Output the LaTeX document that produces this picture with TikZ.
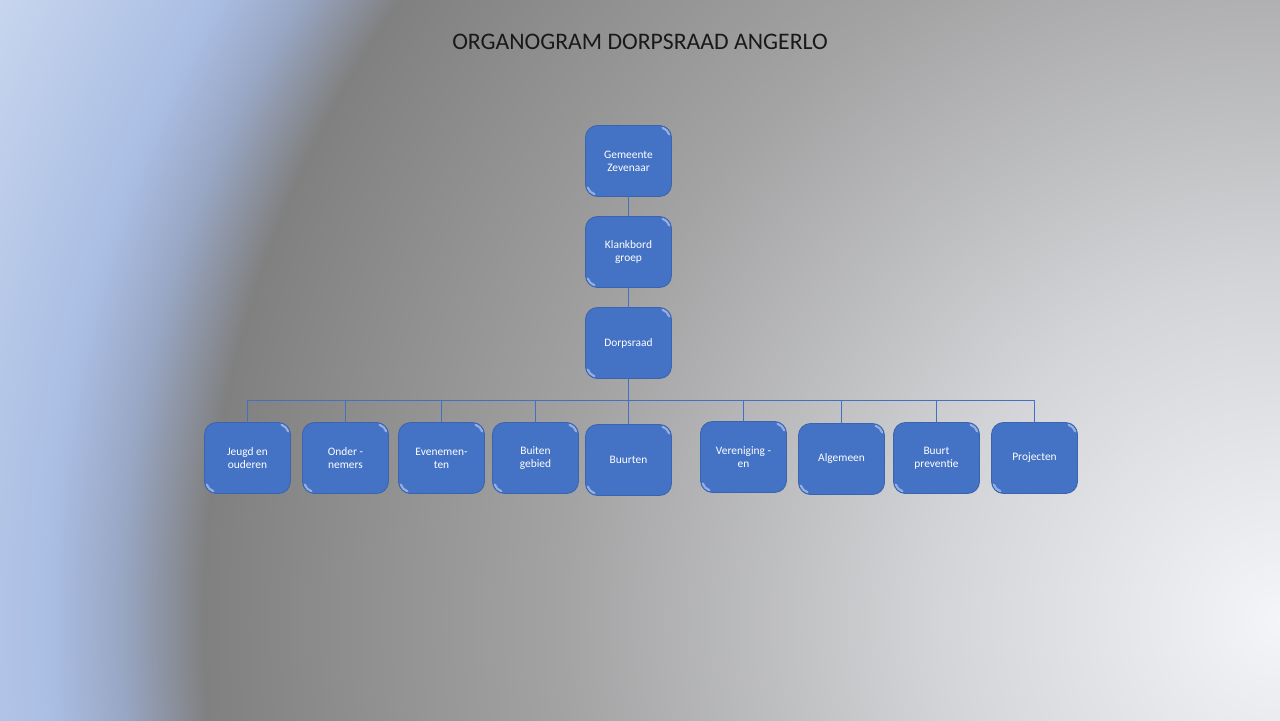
\documentclass[tikz,border=0pt]{standalone}
\usepackage{fontspec}
\setmainfont{Carlito}
\definecolor{bgA}{HTML}{F4F5F9}
\definecolor{bgB}{HTML}{D3D4D7}
\definecolor{bgC}{HTML}{A3A3A4}
\definecolor{bgD}{HTML}{808080}
\definecolor{bgE}{HTML}{98A6C3}
\definecolor{bgF}{HTML}{AABEE4}
\definecolor{bgG}{HTML}{CAD8EE}
\definecolor{boxblue}{HTML}{4472C4}
\definecolor{boxline}{HTML}{3C64AE}
\definecolor{linkblue}{HTML}{4570C0}
\definecolor{gloss}{HTML}{93AFE3}
\pgfdeclareradialshading{slidebg}{\pgfpointorigin}{color(0bp)=(bgA); color(6bp)=(bgB); color(12.5bp)=(bgC); color(18.7bp)=(bgD); color(20.1bp)=(bgE); color(21.4bp)=(bgF); color(25bp)=(bgG); color(50bp)=(bgG)}
\begin{document}
\begin{tikzpicture}[x=0.02cm, y=-0.02cm, line join=round, line cap=round,
	box/.style={draw=boxline, line width=0.5pt, fill=boxblue, rounded corners=0.24cm, minimum width=1.72cm, minimum height=1.42cm, inner sep=1pt, align=center, text=white, font=\fontsize{6.5}{7.4}\selectfont,
		path picture={
			\draw[gloss, line width=1.3pt, line cap=round] ([xshift=-0.24cm,yshift=-0.24cm]path picture bounding box.north east) ++(18:0.205cm) arc (18:72:0.205cm);
			\draw[gloss, line width=1.3pt, line cap=round] ([xshift=0.24cm,yshift=0.24cm]path picture bounding box.south west) ++(198:0.205cm) arc (198:252:0.205cm);}},
	link/.style={draw=linkblue, line width=0.7pt}]
	\useasboundingbox (0,0) rectangle (1280,720);
	% slide background
	\begin{scope}
		\clip (0,0) rectangle (1280,720);
		\shade[shading=slidebg] (1280,620) circle (28.8cm);
	\end{scope}
	\node[font=\fontsize{13.5}{15}\selectfont, text=black!90] (title) at (640,42) {ORGANOGRAM DORPSRAAD ANGERLO};
	% top of the chart
	\node[box] (gem) at (628.5,161) {Gemeente\\Zevenaar};
	\node[box] (klank) at (628.5,252) {Klankbord\\groep};
	\node[box] (dorp) at (628.5,343) {Dorpsraad};
	\coordinate (bar) at (628.5,400.5);
	% werkgroepen
	\foreach \n/\x/\y/\t in {jeugd/247.5/458/{Jeugd en\\ouderen}, onder/345.5/458/{Onder -\\nemers}, even/441.5/458/{Evenemen-\\ten}, buiten/535.5/458/{Buiten\\gebied}, buurten/628.5/460/{Buurten}, veren/743.5/457/{Vereniging -\\en}, alg/841.5/459/{Algemeen}, prev/936.5/458/{Buurt\\preventie}, proj/1034.5/458/{Projecten}}
		\node[box] (\n) at (\x,\y) {\t};
	\draw[link] (gem) -- (klank);
	\draw[link] (klank) -- (dorp);
	\draw[link] (dorp) -- (bar);
	\foreach \n in {jeugd,onder,even,buiten,buurten,veren,alg,prev,proj}
		\draw[link] (bar) -| (\n);
\end{tikzpicture}
\end{document}
